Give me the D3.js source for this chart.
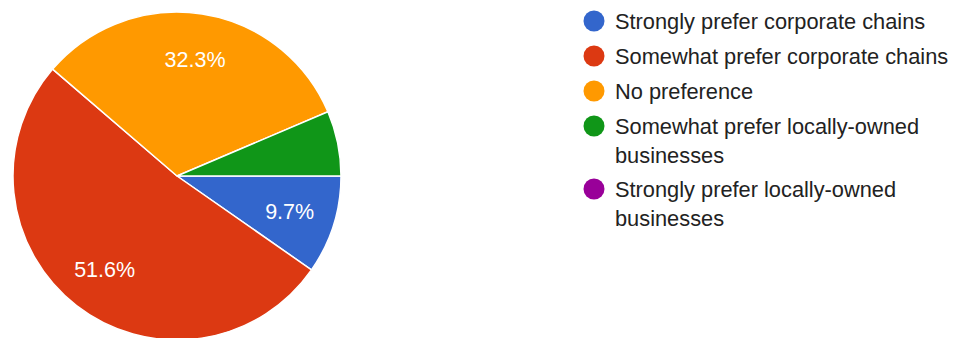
<!DOCTYPE html>
<html><head><meta charset="utf-8">
<script src="https://cdn.jsdelivr.net/npm/d3@7"></script>
<style>body{margin:0;background:#fff}svg{display:block}</style>
</head><body>
<svg id="c" width="956" height="338"></svg>
<script>
const categories = ["Strongly prefer corporate chains","Somewhat prefer corporate chains","No preference","Somewhat prefer locally-owned businesses","Strongly prefer locally-owned businesses"];
const legendLines = [["Strongly prefer corporate chains"],["Somewhat prefer corporate chains"],["No preference"],["Somewhat prefer locally-owned","businesses"],["Strongly prefer locally-owned","businesses"]];
const values = [9.7, 51.6, 32.3, 6.4, 0];
const colors = ["#3366cc","#dc3912","#ff9900","#109618","#990099"];

const svg = d3.select("#c");
const font = "'Liberation Sans', Arial, sans-serif";
const cx = 177, cy = 176, r = 164;
const pie = d3.pie().sort(null).startAngle(Math.PI/2).endAngle(Math.PI/2 + 2*Math.PI);
const arcs = pie(values);
const arc = d3.arc().innerRadius(0).outerRadius(r);
const labelArc = d3.arc().innerRadius(r*0.72).outerRadius(r*0.72);
const g = svg.append("g").attr("transform", `translate(${cx},${cy})`);
g.selectAll("path").data(arcs.filter(d=>d.value>0)).join("path")
  .attr("d", arc).attr("fill", (d)=>colors[d.index])
  .attr("stroke", "#fff").attr("stroke-width", 1.5);
g.selectAll("text").data(arcs.filter(d=>d.value/100*360 > 25)).join("text")
  .attr("transform", d=>`translate(${labelArc.centroid(d)})`)
  .attr("text-anchor","middle").attr("dy","0.35em")
  .attr("fill","#fff").attr("font-family",font).attr("font-size",21.5)
  .text(d=>d.value.toFixed(1)+"%");

const ys = [21, 56, 91, 126, 189];
const lg = svg.append("g");
legendLines.forEach((lines,i)=>{
  lg.append("circle").attr("cx",594).attr("cy",ys[i]).attr("r",10.5).attr("fill",colors[i]);
  const t = lg.append("text").attr("x",615).attr("y",ys[i])
    .attr("fill","#222").attr("font-family",font).attr("font-size",21.8);
  lines.forEach((l,j)=>t.append("tspan").attr("x",615).attr("dy", j===0?"0.35em":29).text(l));
});
</script>
</body></html>
